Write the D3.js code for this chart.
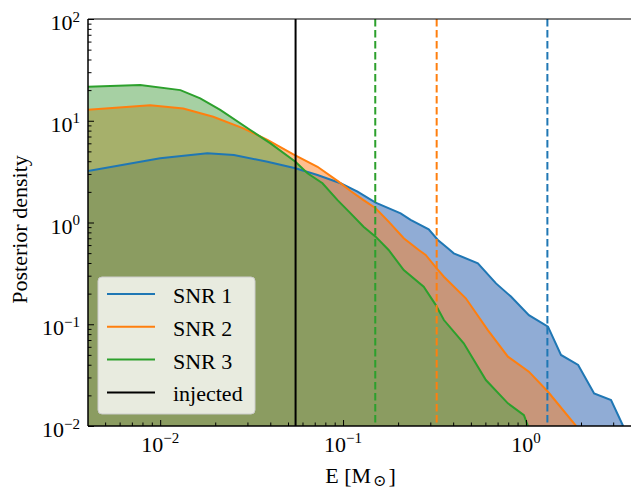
<!DOCTYPE html>
<html>
<head>
<meta charset="utf-8">
<script src="https://cdn.jsdelivr.net/npm/d3@7"></script>
<style>
body { margin: 0; background: #fff; }
text { font-family: "Liberation Serif", "DejaVu Serif", serif; fill: #000; }
</style>
</head>
<body>
<script>
// posterior density of E [M_sun]
var snr1E = [0.00403, 0.01, 0.0181, 0.0253, 0.0386, 0.0549, 0.0725, 0.0969, 0.120, 0.1507, 0.2065, 0.234, 0.294, 0.330, 0.374, 0.403, 0.546, 0.686, 0.828, 1.038, 1.32, 1.555, 1.93, 2.36, 2.92, 3.40];
var snr1Density = [3.21, 4.28, 4.79, 4.6, 3.96, 3.41, 2.93, 2.43, 2.01, 1.57, 1.23, 1.06, 0.857, 0.673, 0.557, 0.498, 0.397, 0.252, 0.187, 0.123, 0.0946, 0.0499, 0.0398, 0.0209, 0.018, 0.01];

var snr2E = [0.00403, 0.00882, 0.01337, 0.0195, 0.0285, 0.0386, 0.0535, 0.0725, 0.0945, 0.110, 0.1294, 0.1507, 0.1775, 0.2147, 0.2594, 0.283, 0.325, 0.356, 0.469, 0.619, 0.797, 1.038, 1.32, 1.88];
var snr2Density = [12.8, 14.2, 13.2, 10.96, 8.43, 6.47, 4.66, 3.53, 2.52, 2.04, 1.66, 1.38, 1.02, 0.70, 0.537, 0.48, 0.355, 0.293, 0.18, 0.0877, 0.048, 0.0342, 0.0217, 0.01];

var snr3E = [0.00403, 0.00777, 0.0129, 0.01656, 0.0213, 0.0311, 0.0401, 0.0549, 0.0639, 0.0772, 0.0933, 0.110, 0.1294, 0.1507, 0.1775, 0.2147, 0.276, 0.321, 0.356, 0.457, 0.604, 0.797, 0.975, 1.026];
var snr3Density = [21.6, 22.4, 20.0, 16.6, 12.8, 8.11, 6.0, 3.95, 3.05, 2.43, 1.66, 1.23, 0.91, 0.726, 0.537, 0.341, 0.234, 0.155, 0.110, 0.065, 0.0283, 0.0167, 0.0128, 0.01];

// dashed upper bounds for SNR 1, 2, 3 and the injected value
var upperE = [1.31, 0.325, 0.15];
var injectedE = 0.055;

var seriesNames = ["SNR 1", "SNR 2", "SNR 3"];
var legendLabels = ["SNR 1", "SNR 2", "SNR 3", "injected"];
var xMajorTicks = [0.01, 0.1, 1];
var xTickExp = ["\u22122", "\u22121", "0"];
var yMajorTicks = [0.01, 0.1, 1, 10, 100];
var yTickExp = ["\u22122", "\u22121", "0", "1", "2"];

var colors = ["#1f77b4", "#ff7f0e", "#2ca02c"];
// fill tints (drawn at half opacity) picked to match the shaded areas
var fillColors = ["#225aab", "#ff7f1f", "#4da248"];

var margin = { top: 19, right: 0, bottom: 65, left: 88 },
    width = 545,
    height = 407;

var svg = d3.select("body").append("svg")
    .attr("width", 631)
    .attr("height", 491)
    .append("g")
    .attr("transform", "translate(" + margin.left + "," + margin.top + ")");

var xScale = d3.scaleLog().domain([0.00403, 3.85]).range([0, width]);
var yScale = d3.scaleLog().domain([0.01, 100]).range([height, 0]);

svg.append("clipPath").attr("id", "plotclip")
    .append("rect").attr("width", width).attr("height", height);

var plot = svg.append("g").attr("clip-path", "url(#plotclip)");

var series = [
  { name: seriesNames[0], e: snr1E, d: snr1Density, color: colors[0], fill: fillColors[0] },
  { name: seriesNames[1], e: snr2E, d: snr2Density, color: colors[1], fill: fillColors[1] },
  { name: seriesNames[2], e: snr3E, d: snr3Density, color: colors[2], fill: fillColors[2] }
];

var area = d3.area()
    .x(p => xScale(p[0]))
    .y0(height)
    .y1(p => yScale(p[1]));
var line = d3.line()
    .x(p => xScale(p[0]))
    .y(p => yScale(p[1]));

// fills first, lines over them
series.forEach(function (s) {
  plot.append("path")
      .datum(d3.zip(s.e, s.d))
      .attr("d", area)
      .attr("fill", s.fill)
      .attr("fill-opacity", 0.5);
});
series.forEach(function (s) {
  plot.append("path")
      .datum(d3.zip(s.e, s.d))
      .attr("d", line)
      .attr("fill", "none")
      .attr("stroke", s.color)
      .attr("stroke-width", 2);
});

// upper bounds
plot.selectAll(".upper")
    .data(upperE)
    .enter()
    .append("line")
    .attr("class", "upper")
    .attr("x1", d => xScale(d)).attr("x2", d => xScale(d))
    .attr("y1", 0).attr("y2", height)
    .attr("stroke", (d, i) => colors[i])
    .attr("stroke-width", 2)
    .attr("stroke-dasharray", "7.5,3.5");

plot.append("line")
    .attr("x1", xScale(injectedE)).attr("x2", xScale(injectedE))
    .attr("y1", 0).attr("y2", height)
    .attr("stroke", "#000")
    .attr("stroke-width", 2);

// minor ticks
var xMinor = [];
[0.001, 0.01, 0.1, 1].forEach(function (dec) {
  for (var k = 2; k <= 9; k++) {
    var v = dec * k;
    if (v > 0.00403 && v < 3.85) xMinor.push(v);
  }
});
var yMinor = [];
[0.01, 0.1, 1, 10].forEach(function (dec) {
  for (var k = 2; k <= 9; k++) yMinor.push(dec * k);
});

svg.append("g")
    .attr("transform", "translate(0," + height + ")")
    .call(d3.axisBottom(xScale).tickValues(xMinor).tickSize(-3.5).tickFormat(""))
    .call(g => g.select(".domain").remove())
    .selectAll("line").attr("stroke", "#000");
svg.append("g")
    .attr("transform", "translate(0," + height + ")")
    .call(d3.axisBottom(xScale).tickValues(xMajorTicks).tickSize(-6).tickFormat(""))
    .call(g => g.select(".domain").remove())
    .selectAll("line").attr("stroke", "#000");
svg.append("g")
    .call(d3.axisLeft(yScale).tickValues(yMinor).tickSize(-3.5).tickFormat(""))
    .call(g => g.select(".domain").remove())
    .selectAll("line").attr("stroke", "#000");
svg.append("g")
    .call(d3.axisLeft(yScale).tickValues(yMajorTicks).tickSize(-6).tickFormat(""))
    .call(g => g.select(".domain").remove())
    .selectAll("line").attr("stroke", "#000");

// spines
svg.append("line").attr("x1", 0).attr("x2", width).attr("y1", 0).attr("y2", 0)
    .attr("stroke", "#000").attr("stroke-width", 1.2);
svg.append("line").attr("x1", 0).attr("x2", width).attr("y1", height).attr("y2", height)
    .attr("stroke", "#000").attr("stroke-width", 1.5);
svg.append("line").attr("x1", 0).attr("x2", 0).attr("y1", 0).attr("y2", height)
    .attr("stroke", "#000").attr("stroke-width", 1.5);

// tick labels 10^n
var xl = svg.selectAll(".xlab")
    .data(xMajorTicks)
    .enter()
    .append("text")
    .attr("class", "xlab")
    .attr("x", d => xScale(d))
    .attr("y", height + 26)
    .attr("text-anchor", "middle")
    .style("font-size", "22px");
xl.append("tspan").text("10");
xl.append("tspan").attr("dy", -9).style("font-size", "15px").text((d, i) => xTickExp[i]);

var yl = svg.selectAll(".ylab")
    .data(yMajorTicks)
    .enter()
    .append("text")
    .attr("class", "ylab")
    .attr("x", -8)
    .attr("y", d => yScale(d) + 11)
    .attr("text-anchor", "end")
    .style("font-size", "22px");
yl.append("tspan").text("10");
yl.append("tspan").attr("dy", -8.5).style("font-size", "15px").text((d, i) => yTickExp[i]);

// axis titles
var xt = svg.append("text")
    .attr("x", width / 2)
    .attr("y", height + 57)
    .attr("text-anchor", "middle")
    .style("font-size", "22px");
xt.append("tspan").text("E [M");
xt.append("tspan").attr("dy", 3).attr("dx", 2).style("font-size", "16px").text("\u2299");
xt.append("tspan").attr("dy", -3).attr("dx", 2).text("]");

svg.append("text")
    .attr("transform", "translate(" + (27 - margin.left) + "," + (height / 2 + 7) + ") rotate(-90)")
    .attr("text-anchor", "middle")
    .style("font-size", "22px")
    .text("Posterior density");

// legend
var legend = svg.append("g").attr("transform", "translate(10,258)");
legend.append("rect")
    .attr("width", 157).attr("height", 137)
    .attr("rx", 4).attr("ry", 4)
    .attr("fill", "#fff").attr("fill-opacity", 0.8)
    .attr("stroke", "#cccccc").attr("stroke-width", 1);

var legendColors = colors.concat(["#000"]);
var items = legend.selectAll(".item")
    .data(legendLabels)
    .enter()
    .append("g")
    .attr("class", "item")
    .attr("transform", (d, i) => "translate(0," + (17 + i * 32.8) + ")");
items.append("line")
    .attr("x1", 9).attr("x2", 57)
    .attr("stroke", (d, i) => legendColors[i])
    .attr("stroke-width", 2);
items.append("text")
    .attr("x", 75).attr("y", 9)
    .style("font-size", "22px")
    .text(d => d);
</script>
</body>
</html>
